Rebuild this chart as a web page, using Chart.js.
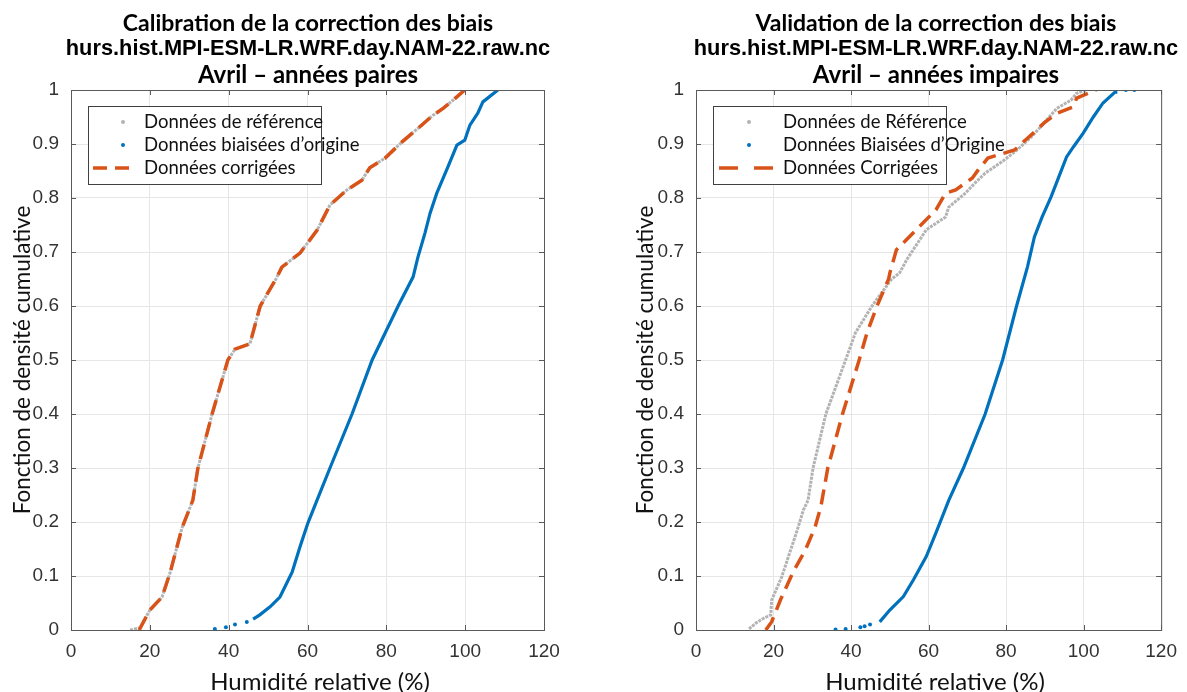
<!DOCTYPE html>
<html>
<head>
<meta charset="utf-8">
<script src="https://cdn.jsdelivr.net/npm/chart.js@4.4.1/dist/chart.umd.min.js"></script>
<style>
  body { margin: 0; background: #fff; width: 1187px; height: 692px; overflow: hidden; position: relative; }
  .panel { position: absolute; top: 0; height: 692px; }
  .panel canvas { position: absolute; left: 0; top: 0; }
  .ttl { position: absolute; top: 9px; transform: translateX(-50%); text-align: center; white-space: nowrap; z-index: 2; color: #000; }
  .ttl div { height: 26px; line-height: 26px; }
  .t1 { font: bold 23px Lato, sans-serif; }
  .t2 { font: bold 21.8px "Liberation Sans", Arial, sans-serif; }
  .t3 { font: bold 24px Lato, sans-serif; }
  .xlab { position: absolute; top: 666px; height: 28px; line-height: 28px; transform: translateX(-50%);
    white-space: nowrap; font: 24px Lato, sans-serif; color: #111; z-index: 2; }
</style>
</head>
<body>
<div class="panel" style="left:0;width:593px">
  <canvas id="chartLeft" width="593" height="692"></canvas>
  <div class="ttl" style="left:308px">
    <div class="t1">Calibration de la correction des biais</div>
    <div class="t2">hurs.hist.MPI-ESM-LR.WRF.day.NAM-22.raw.nc</div>
    <div class="t3">Avril – années paires</div>
  </div>
  <div class="xlab" style="left:320px">Humidité relative (%)</div>
</div>
<div class="panel" style="left:593px;width:594px">
  <canvas id="chartRight" width="594" height="692"></canvas>
  <div class="ttl" style="left:343px">
    <div class="t1">Validation de la correction des biais</div>
    <div class="t2">hurs.hist.MPI-ESM-LR.WRF.day.NAM-22.raw.nc</div>
    <div class="t3">Avril – années impaires</div>
  </div>
  <div class="xlab" style="left:342px">Humidité relative (%)</div>
</div>
<script>
const leftRef = [[15.0, 0], [17.5, 0.004], [20, 0.037], [23.1, 0.061], [25.1, 0.105], [28.2, 0.19], [30.9, 0.24],
  [32.2, 0.3], [35.8, 0.4], [39.8, 0.5], [41.6, 0.52], [45.4, 0.53], [48, 0.6], [52, 0.65], [53.5, 0.672],
  [58.1, 0.698], [62.4, 0.74], [65.7, 0.787], [70, 0.815], [73.8, 0.833], [75.8, 0.856], [79.7, 0.874],
  [84, 0.904], [88.5, 0.932], [91.8, 0.953], [94.4, 0.966], [96.9, 0.981], [99.9, 1]];
const leftCor = [[17.3, 0], [20, 0.037], [23.1, 0.061], [25.1, 0.105], [28.2, 0.19], [30.9, 0.24],
  [32.2, 0.3], [35.8, 0.4], [39.8, 0.5], [41.6, 0.52], [45.4, 0.53], [48, 0.6], [52, 0.65], [53.5, 0.672],
  [58.1, 0.698], [62.4, 0.74], [65.7, 0.787], [70, 0.815], [73.8, 0.833], [75.8, 0.856], [79.7, 0.874],
  [84, 0.904], [88.5, 0.932], [91.8, 0.953], [94.4, 0.966], [96.9, 0.981], [99.9, 1]];
const leftRaw = [[46.2, 0.02], [47.9, 0.028], [50.5, 0.043], [53, 0.061], [56.1, 0.107], [58.1, 0.154],
  [60.1, 0.198], [62.4, 0.24], [65.7, 0.3], [71.3, 0.4], [76.4, 0.5], [83, 0.6], [86.8, 0.654], [88, 0.69],
  [89.8, 0.735], [91.1, 0.772], [92.8, 0.809], [95.6, 0.857], [97.9, 0.898], [99.9, 0.907], [101.2, 0.935],
  [103.2, 0.957], [104.5, 0.978], [108.3, 1]];
const leftRawTail = [[36.5, 0.002], [39.3, 0.005], [41.6, 0.01], [44.6, 0.015]];

const rightRef = [[13.7, 0.002], [15.5, 0.013], [17, 0.02], [19.3, 0.028], [19.5, 0.055], [22.1, 0.098],
  [23.8, 0.135], [25.9, 0.18], [27.7, 0.222], [28.9, 0.24], [30.2, 0.3], [33.5, 0.4], [38.6, 0.5], [41.1, 0.55],
  [45.4, 0.6], [50.5, 0.65], [52.5, 0.661], [54.3, 0.685], [59.4, 0.741], [64.4, 0.765], [65.2, 0.783],
  [69.5, 0.809], [72, 0.828], [74.6, 0.846], [78.9, 0.867], [82.2, 0.885], [86.5, 0.913], [89.8, 0.939],
  [93.1, 0.966], [96.7, 0.981], [98.2, 0.994], [100.7, 1]];
const rightCor = [[18, 0], [19.5, 0.015], [21.8, 0.056], [25.1, 0.108], [28.2, 0.148], [30.7, 0.19],
  [32.2, 0.228], [34, 0.3], [37.8, 0.4], [42.1, 0.5], [44.1, 0.55], [46.7, 0.6], [49.7, 0.65], [50, 0.661],
  [51.7, 0.704], [56.8, 0.741], [61.9, 0.778], [64.4, 0.809], [67, 0.815], [71.3, 0.837], [72.8, 0.852],
  [75.3, 0.874], [82.2, 0.889], [84, 0.901], [87.3, 0.922], [89.8, 0.939], [93.1, 0.957], [97.4, 0.969],
  [98.2, 0.985], [103.2, 1]];
const rightRaw = [[47.4, 0.015], [50, 0.037], [53.5, 0.062], [56.1, 0.093], [59.4, 0.136], [61.9, 0.18],
  [65.2, 0.24], [69, 0.3], [74.6, 0.4], [79.1, 0.5], [82.7, 0.6], [85.5, 0.672], [87.3, 0.728], [89.3, 0.765],
  [91.6, 0.802], [93.6, 0.839], [95.6, 0.876], [97.4, 0.895], [99.9, 0.92], [102.5, 0.95], [105, 0.976],
  [108.1, 0.996], [108.3, 1]];
const rightRawTail = [[36, 0.001], [38.6, 0.002], [42.4, 0.005], [43.5, 0.007], [44.9, 0.01], [110.9, 1], [113.1, 1]];

const xTicks = [0, 20, 40, 60, 80, 100, 120];
const yTicks = [0, 0.1, 0.2, 0.3, 0.4, 0.5, 0.6, 0.7, 0.8, 0.9, 1];
const leftLabels = ["Données de référence", "Données biaisées d’origine", "Données corrigées"];
const rightLabels = ["Données de Référence", "Données Biaisées d’Origine", "Données Corrigées"];

const GRAY = "#b3b3b3";
const BLUE = "#0072bd";
const ORANGE = "#d95319";

function pts(arr) {
  return arr.map(([x, p]) => ({ x: x, y: p }));
}

// MATLAB-like box with inward ticks on all four sides
const frameBox = {
  id: "frameBox",
  afterDatasetsDraw(chart) {
    const { ctx, chartArea: a, scales } = chart;
    ctx.save();
    ctx.strokeStyle = "#5a5a5a";
    ctx.lineWidth = 1;
    ctx.strokeRect(a.left + 0.5, a.top + 0.5, a.right - a.left, a.bottom - a.top);
    ctx.beginPath();
    xTicks.forEach((v) => {
      const px = Math.round(scales.x.getPixelForValue(v)) + 0.5;
      ctx.moveTo(px, a.bottom); ctx.lineTo(px, a.bottom - 5);
      ctx.moveTo(px, a.top); ctx.lineTo(px, a.top + 5);
    });
    yTicks.forEach((v) => {
      const py = Math.round(scales.y.getPixelForValue(v)) + 0.5;
      ctx.moveTo(a.left, py); ctx.lineTo(a.left + 5, py);
      ctx.moveTo(a.right, py); ctx.lineTo(a.right - 5, py);
    });
    ctx.stroke();
    ctx.restore();
  }
};

const boxLegend = {
  id: "boxLegend",
  afterDraw(chart, args, o) {
    const { ctx, chartArea: a } = chart;
    const bx = a.left + o.left;
    const by = a.top + o.top;
    ctx.save();
    ctx.fillStyle = "#fff";
    ctx.fillRect(bx, by, o.width, o.height);
    ctx.strokeStyle = "#404040";
    ctx.lineWidth = 1;
    ctx.strokeRect(bx + 0.5, by + 0.5, o.width, o.height);
    ctx.font = "18.5px Lato, sans-serif";
    ctx.textBaseline = "middle";
    o.labels.forEach((label, i) => {
      const cy = by + o.rowY[i];
      if (i < 2) {
        ctx.fillStyle = i === 0 ? GRAY : BLUE;
        ctx.beginPath();
        ctx.arc(bx + o.dotX, cy, 2, 0, Math.PI * 2);
        ctx.fill();
      } else {
        ctx.strokeStyle = ORANGE;
        ctx.lineWidth = 3.5;
        ctx.setLineDash(o.dash);
        ctx.beginPath();
        ctx.moveTo(bx + o.dashFrom, cy);
        ctx.lineTo(bx + o.dashTo, cy);
        ctx.stroke();
        ctx.setLineDash([]);
      }
      ctx.fillStyle = "#111";
      ctx.fillText(label, bx + o.textX, cy);
    });
    ctx.restore();
  }
};

function makeChart(id, ref, raw, tail, cor, labels, lay) {
  return new Chart(document.getElementById(id), {
    type: "scatter",
    data: {
      datasets: [
        { label: labels[2], data: pts(cor), showLine: true, borderColor: ORANGE, borderWidth: 3.5,
          borderDash: [15, 8], pointRadius: 0 },
        { label: labels[1], data: pts(raw), showLine: true, borderColor: BLUE, borderWidth: 3.2, pointRadius: 0 },
        { label: labels[1], data: pts(tail), showLine: false, pointRadius: 2, pointBorderWidth: 0,
          backgroundColor: BLUE },
        { label: labels[0], data: pts(ref), showLine: true, borderColor: GRAY, borderWidth: 3,
          borderDash: [3, 1], pointRadius: 0 }
      ]
    },
    options: {
      responsive: false,
      animation: false,
      layout: { padding: { left: 0, right: lay.padRight, top: 90, bottom: 0 } },
      plugins: {
        legend: { display: false },
        tooltip: { enabled: false },
        boxLegend: { labels: labels, left: 17, top: 16, width: 233, height: 78, rowY: [16, 39, 62],
          dotX: lay.dotX, textX: lay.textX, dashFrom: lay.dashFrom, dashTo: lay.dashTo, dash: lay.dash }
      },
      scales: {
        x: {
          type: "linear", min: 0, max: 120,
          afterFit: (s) => { s.height = 62; },
          afterBuildTicks: (s) => { s.ticks = xTicks.map((v) => ({ value: v })); },
          grid: { color: "#e6e6e6", drawTicks: false },
          border: { display: false },
          ticks: { padding: 10, color: "#333", font: { family: "'Liberation Sans', Arial", size: 19 } }
        },
        y: {
          type: "linear", min: 0, max: 1,
          afterFit: (s) => { s.width = lay.yWidth; },
          afterBuildTicks: (s) => { s.ticks = yTicks.map((v) => ({ value: v })); },
          grid: { color: "#e6e6e6", drawTicks: false },
          border: { display: false },
          ticks: { padding: 12, color: "#333", font: { family: "'Liberation Sans', Arial", size: 19 },
            callback: (v) => String(+v.toFixed(1)) },
          title: { display: true, text: "Fonction de densité cumulative", color: "#111",
            padding: { top: lay.yTitlePad, bottom: 0 }, font: { family: "Lato", size: 22.5 } }
        }
      }
    },
    plugins: [frameBox, boxLegend]
  });
}

makeChart("chartLeft", leftRef, leftRaw, leftRawTail, leftCor, leftLabels,
  { padRight: 49, yWidth: 71, yTitlePad: 9, dotX: 35, textX: 56, dashFrom: 5, dashTo: 49, dash: [14, 8] });
makeChart("chartRight", rightRef, rightRaw, rightRawTail, rightCor, rightLabels,
  { padRight: 18, yWidth: 103, yTitlePad: 39, dotX: 36, textX: 70, dashFrom: 6, dashTo: 65, dash: [19, 16] });
</script>
</body>
</html>
